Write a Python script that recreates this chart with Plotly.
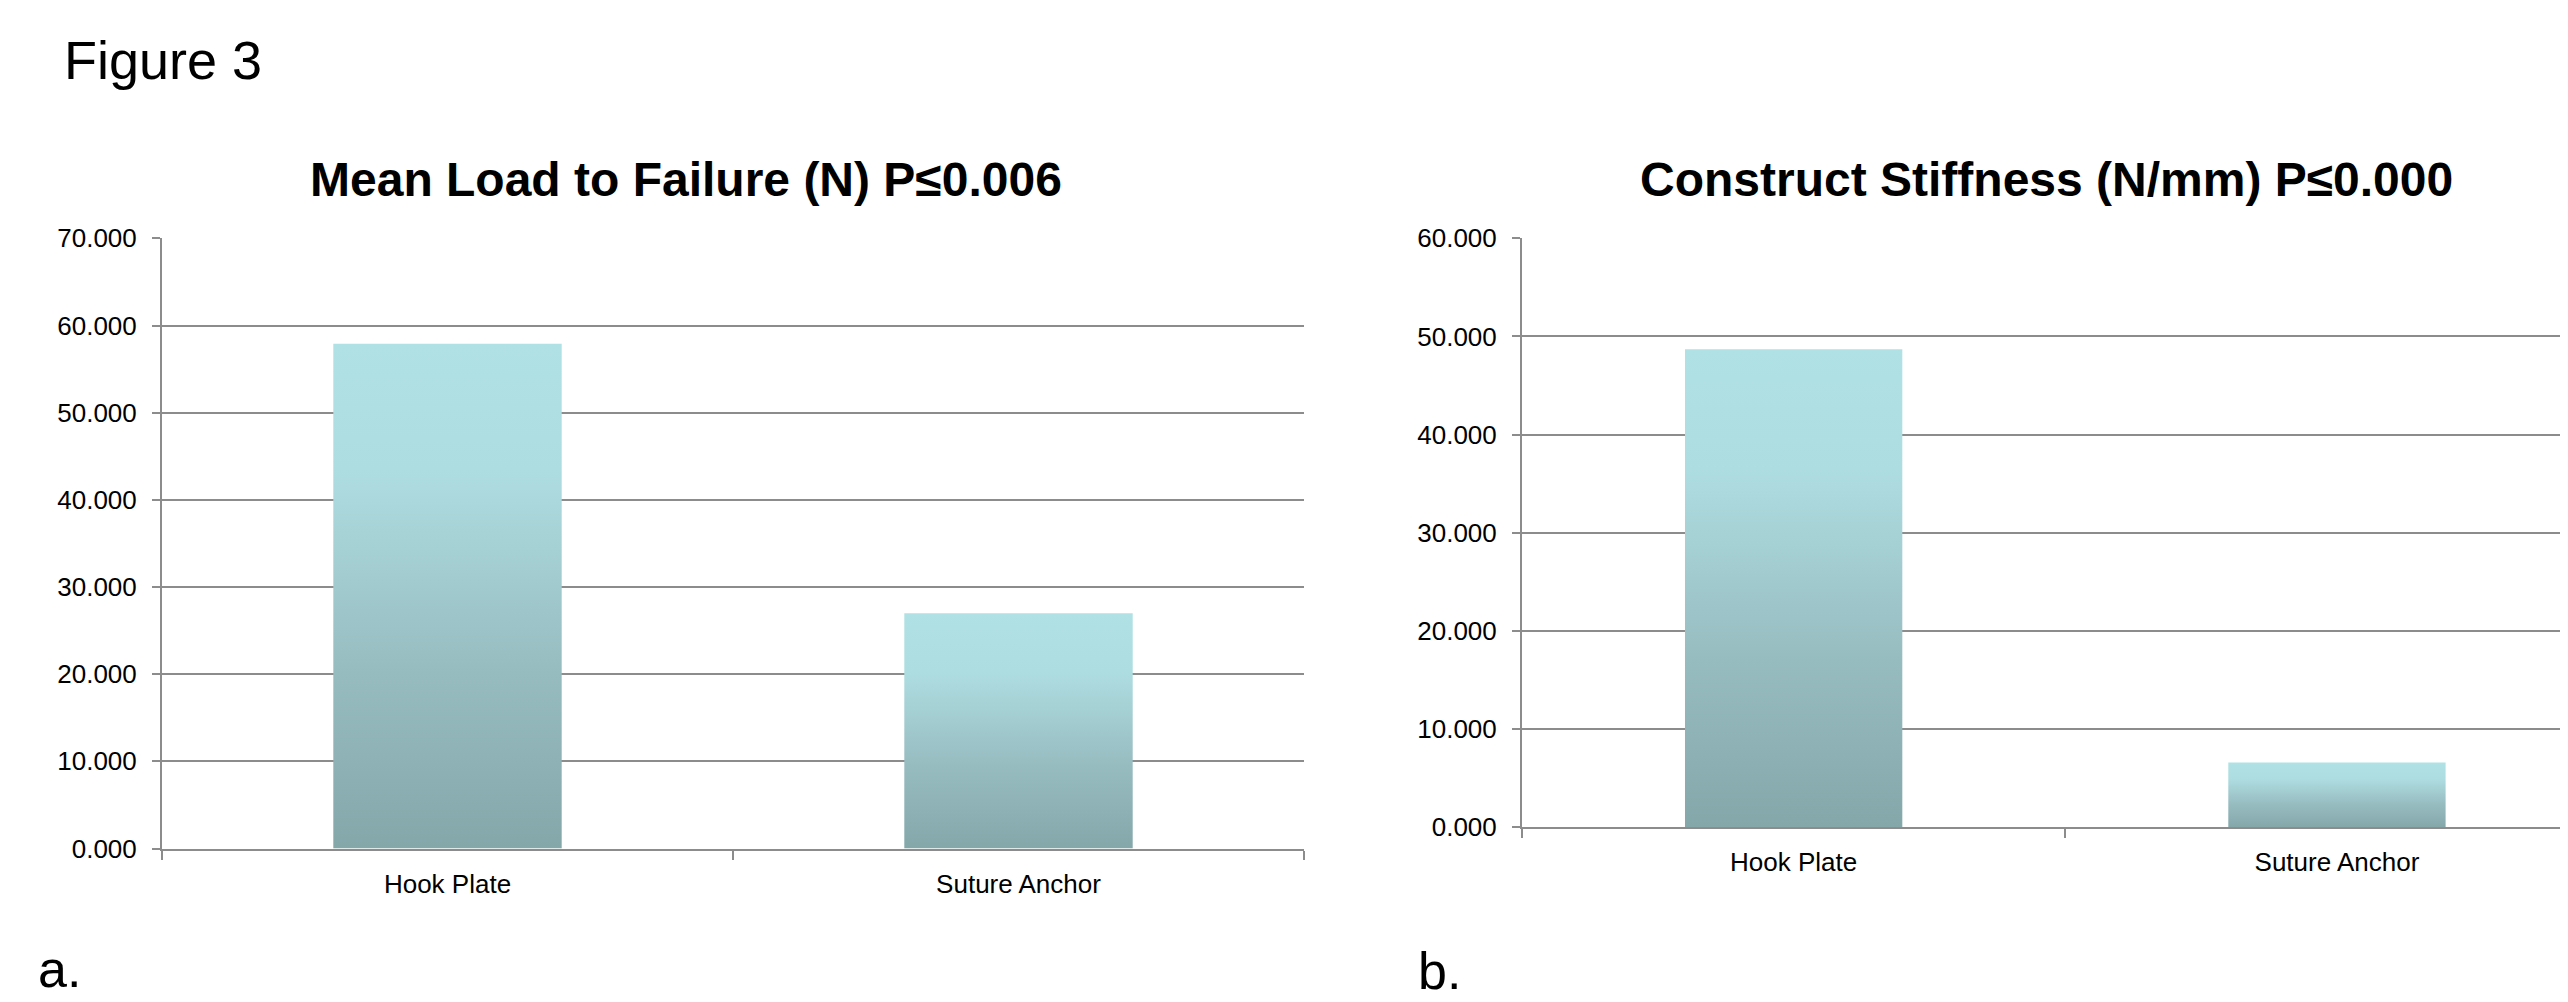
import plotly.graph_objects as go

categories = ["Hook Plate", "Suture Anchor"]
load_values = [57.9, 27.0]
stiffness_values = [48.7, 6.6]
load_title = "Mean Load to Failure (N) P≤0.006"
stiff_title = "Construct Stiffness (N/mm) P≤0.000"

W, H = 2568, 1002
FONT = "Liberation Sans, Arial, sans-serif"
GRID = "#8c8c8c"
BAR_W = 0.4
GRAD = [[0, "#84A7AA"], [0.35, "#97BCC0"], [0.75, "#AEDDE1"], [1, "#B0E1E5"]]

fig = go.Figure()

def add_bars(values, xa, ya):
    for i, v in enumerate(values):
        fig.add_trace(go.Scatter(
            x=[i - BAR_W / 2, i + BAR_W / 2, i + BAR_W / 2, i - BAR_W / 2, i - BAR_W / 2],
            y=[0, 0, v, v, 0],
            fill="toself",
            fillgradient=dict(type="vertical", colorscale=GRAD),
            line=dict(width=0),
            mode="lines",
            hoverinfo="skip",
            showlegend=False,
            xaxis=xa, yaxis=ya,
        ))

add_bars(load_values, "x", "y")
add_bars(stiffness_values, "x2", "y2")

def px_x(p):
    return p / W

def px_y(p):
    return 1 - p / H

common_x = dict(
    showline=True, linecolor=GRID, linewidth=2,
    tickvals=[0, 1], ticktext=categories, ticks="", showgrid=False, zeroline=False,
    tickfont=dict(family=FONT, size=26, color="black"),
    minor=dict(tickmode="array", tickvals=[-0.5, 0.5, 1.5], ticks="outside",
               ticklen=9, tickwidth=2, tickcolor=GRID, showgrid=False),
    ticklabelstandoff=11,
)
common_y = dict(
    showline=True, linecolor=GRID, linewidth=2,
    ticks="outside", ticklen=8, tickwidth=2, tickcolor=GRID,
    showgrid=True, gridcolor=GRID, gridwidth=2, zeroline=False,
    tickformat=".3f", dtick=10, ticklabelstandoff=10,
    tickfont=dict(family=FONT, size=26, color="black"),
)

fig.update_layout(
    width=W, height=H,
    margin=dict(l=0, r=0, t=0, b=0),
    paper_bgcolor="white", plot_bgcolor="white",
    xaxis=dict(domain=[px_x(154), px_x(1296)], range=[-0.5, 1.5], anchor="y", **common_x),
    yaxis=dict(domain=[px_y(851), px_y(222)], range=[0, 70], anchor="x", **common_y),
    xaxis2=dict(domain=[px_x(1514), 1], range=[-0.5, 1.44], anchor="y2", **common_x),
    yaxis2=dict(domain=[px_y(829), px_y(222)], range=[0, 60], anchor="x2", **common_y),
    annotations=[
        dict(text="Figure 3", x=px_x(54), y=px_y(38), xref="paper", yref="paper",
             xanchor="left", yanchor="middle", showarrow=False,
             font=dict(family=FONT, size=54, color="black")),
        dict(text="<b>" + load_title + "</b>", x=px_x(678), y=px_y(161), xref="paper", yref="paper",
             xanchor="center", yanchor="middle", showarrow=False,
             font=dict(family=FONT, size=48, color="black")),
        dict(text="<b>" + stiff_title + "</b>", x=px_x(2038), y=px_y(161), xref="paper", yref="paper",
             xanchor="center", yanchor="middle", showarrow=False,
             font=dict(family=FONT, size=48, color="black")),
        dict(text="a.", x=px_x(28), y=px_y(975), xref="paper", yref="paper",
             xanchor="left", yanchor="middle", showarrow=False,
             font=dict(family=FONT, size=52, color="black")),
        dict(text="b.", x=px_x(1408), y=px_y(977), xref="paper", yref="paper",
             xanchor="left", yanchor="middle", showarrow=False,
             font=dict(family=FONT, size=52, color="black")),
    ],
)

fig.write_html("out.html")
